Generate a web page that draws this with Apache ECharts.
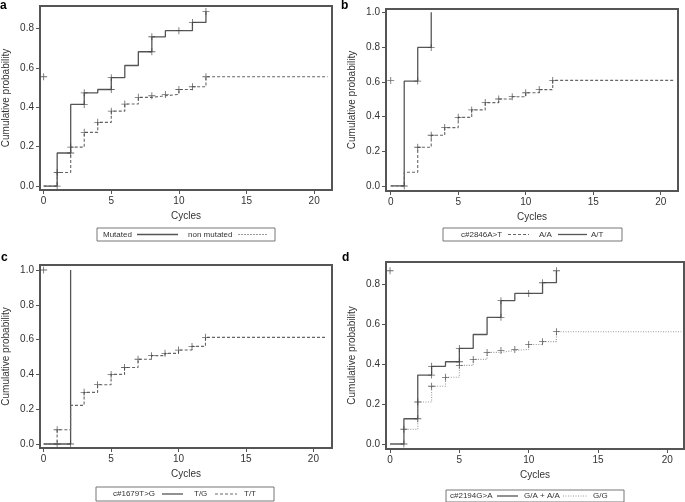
<!DOCTYPE html>
<html><head><meta charset="utf-8">
<script src="https://cdn.jsdelivr.net/npm/echarts@6/dist/echarts.min.js"></script>
<style>html,body{margin:0;padding:0;background:#fff}#c{width:685px;height:502px}</style>
</head><body><div id="c"></div>
<script>
// ---- data ----
const xTicks = [0, 5, 10, 15, 20];
const yTicksA = [0, 0.2, 0.4, 0.6, 0.8];
const yTicksB = [0, 0.2, 0.4, 0.6, 0.8, 1.0];

// panel a
const aMutated = [[0,0],[1,0.168],[2,0.415],[3,0.474],[4,0.491],[5,0.551],[6,0.613],[7,0.683],[8,0.759],[9,0.79],[10,0.79],[11,0.832],[12,0.888]];
const aMutatedMarks = [[1,0],[2,0.168],[3,0.415],[3,0.474],[5,0.491],[5,0.551],[8,0.683],[8,0.759],[10,0.79],[11,0.832],[12,0.888]];
const aNon = [[0,0],[1,0.069],[2,0.198],[3,0.273],[4,0.324],[5,0.381],[6,0.417],[7,0.451],[8,0.459],[9,0.466],[10,0.491],[11,0.505],[12,0.556],[21,0.556]];
const aNonMarks = [[1,0.069],[2,0.198],[3,0.273],[4,0.324],[5,0.381],[6,0.417],[7,0.451],[8,0.459],[9,0.466],[10,0.491],[11,0.505],[12,0.556]];
const aStray = [[0,0.556]];

// panel b
const bAT = [[0,0],[1,0.604],[2,0.798],[3,1.0]];
const bATMarks = [[1,0],[2,0.604],[3,0.798]];
const bAA = [[0,0],[1,0.079],[2,0.223],[3,0.292],[4,0.336],[5,0.395],[6,0.438],[7,0.48],[8,0.501],[9,0.514],[10,0.537],[11,0.555],[12,0.608],[21,0.608]];
const bAAMarks = [[2,0.223],[3,0.292],[4,0.336],[5,0.395],[6,0.438],[7,0.48],[8,0.501],[9,0.514],[10,0.537],[11,0.555],[12,0.608]];
const bStray = [[0,0.608]];

// panel c
const cTG = [[0,0],[2,1.0]];
const cTGMarks = [[1,0],[2,0]];
const cTT = [[0,0],[1,0.082],[2,0.222],[3,0.297],[4,0.341],[5,0.40],[6,0.44],[7,0.487],[8,0.508],[9,0.521],[10,0.54],[11,0.561],[12,0.613],[21,0.613]];
const cTTMarks = [[1,0.082],[3,0.297],[4,0.341],[5,0.40],[6,0.44],[7,0.487],[8,0.508],[9,0.521],[10,0.54],[11,0.561],[12,0.613]];
const cStray = [[0,1.0]];

// panel d
const dGA = [[0,0],[1,0.127],[2,0.346],[3,0.39],[4,0.413],[5,0.48],[6,0.55],[7,0.636],[8,0.72],[9,0.756],[10,0.756],[11,0.81],[12,0.87]];
const dGAMarks = [[1,0],[2,0.127],[3,0.346],[3,0.39],[5,0.413],[5,0.48],[8,0.636],[8,0.72],[10,0.756],[11,0.81],[12,0.87]];
const dGG = [[0,0],[1,0.074],[2,0.211],[3,0.29],[4,0.335],[5,0.395],[6,0.425],[7,0.46],[8,0.47],[9,0.475],[10,0.5],[11,0.514],[12,0.564],[21,0.564]];
const dGGMarks = [[1,0.074],[2,0.211],[3,0.29],[4,0.335],[5,0.395],[6,0.425],[7,0.46],[8,0.47],[9,0.475],[10,0.5],[11,0.514],[12,0.564]];
const dStray = [[0,0.87]];

const xName = 'Cycles';
const yName = 'Cumulative probability';

// ---- styling ----
const FONT = 'Liberation Sans, Arial, sans-serif';
const PLUS = 'path://M-0.12,-1H0.12V1H-0.12Z M-1,-0.12H1V0.12H-1Z';
const grids = [
  {left:38, top:6, width:294, height:184},
  {left:386, top:9, width:292, height:182},
  {left:38, top:265, width:294, height:183},
  {left:386, top:262, width:298, height:187}
];
const xr = [[-0.27,21.32],[-0.35,21.28],[-0.27,21.38],[-0.29,21.2]];
const yr = [[-0.02,0.9155],[-0.029,1.019],[-0.023,1.029],[-0.025,0.914]];
const yt = [yTicksA, yTicksB, yTicksB, yTicksA];

const axisCommon = {
  axisLine:{show:true, onZero:false, lineStyle:{color:'#555', width:2}},
  axisTick:{show:true, inside:false, length:4, lineStyle:{color:'#555', width:1}},
  splitLine:{show:false},
  axisLabel:{color:'#333', fontSize:10, fontFamily:FONT},
  nameTextStyle:{color:'#333', fontSize:10, fontFamily:FONT},
  nameLocation:'middle'
};

const xAxis = grids.map((g,i)=>Object.assign({}, axisCommon, {
  type:'value', gridIndex:i, min:xr[i][0], max:xr[i][1], name:xName, nameGap:21,
  axisTick:Object.assign({}, axisCommon.axisTick, {customValues:xTicks}),
  axisLabel:Object.assign({}, axisCommon.axisLabel, {customValues:xTicks, margin:6, formatter:v=>String(v)})
}));
const yAxis = grids.map((g,i)=>Object.assign({}, axisCommon, {
  type:'value', gridIndex:i, min:yr[i][0], max:yr[i][1], name:yName, nameGap:29,
  axisTick:Object.assign({}, axisCommon.axisTick, {customValues:yt[i]}),
  axisLabel:Object.assign({}, axisCommon.axisLabel, {customValues:yt[i], margin:6, formatter:v=>v.toFixed(1)})
}));

function stepLine(data, i, style){
  return {type:'line', xAxisIndex:i, yAxisIndex:i, data:data, step:'end', symbol:'none', silent:true,
    lineStyle:Object.assign({width:1.3, color:'#555'}, style), z:2};
}
function marks(data, i){
  return {type:'scatter', xAxisIndex:i, yAxisIndex:i, data:data, symbol:PLUS, symbolSize:7, silent:true,
    itemStyle:{color:'#444'}, z:3};
}
const DASH = {type:[3,2], color:'#666', width:1.1};
const DOT = {type:[1,1.5], color:'#999', width:1.1};

const series = [
  stepLine(aMutated,0,{}), marks(aMutatedMarks,0),
  stepLine(aNon,0,DASH), marks(aNonMarks,0), marks(aStray,0),
  stepLine(bAT,1,{}), marks(bATMarks,1),
  stepLine(bAA,1,DASH), marks(bAAMarks,1), marks(bStray,1),
  stepLine(cTG,2,{}), marks(cTGMarks,2),
  stepLine(cTT,2,DASH), marks(cTTMarks,2), marks(cStray,2),
  stepLine(dGA,3,{}), marks(dGAMarks,3),
  stepLine(dGG,3,DOT), marks(dGGMarks,3), marks(dStray,3)
];

// legends drawn as graphic boxes
function legendBox(x, y, w, h, items){
  const children = [{type:'rect', shape:{x:x, y:y, width:w, height:h}, style:{fill:'#fff', stroke:'#777', lineWidth:1}}];
  const cy = y + h/2;
  items.forEach(it=>{
    if (it.text) children.push({type:'text', x:it.x, y:cy, style:{text:it.text, fill:'#333', font:'8px '+FONT, verticalAlign:'middle', align:'left'}});
    else children.push({type:'line', shape:{x1:it.x, y1:cy, x2:it.x2, y2:cy}, style:{stroke:it.color||'#555', lineWidth:it.w||1.3, lineDash:it.dash||null}});
  });
  return {type:'group', children:children};
}
const graphic = [
  {type:'text', left:0, top:0, style:{text:'a', font:'bold 12px '+FONT, fill:'#000'}},
  {type:'text', left:341, top:0, style:{text:'b', font:'bold 12px '+FONT, fill:'#000'}},
  {type:'text', left:1, top:252, style:{text:'c', font:'bold 12px '+FONT, fill:'#000'}},
  {type:'text', left:342, top:252, style:{text:'d', font:'bold 12px '+FONT, fill:'#000'}},
  legendBox(97, 228, 178, 13, [
    {text:'Mutated', x:103}, {x:137, x2:178},
    {text:'non mutated', x:188}, {x:238, x2:268, dash:[2,1], color:'#999', w:1}
  ]),
  legendBox(443, 228, 179, 13, [
    {text:'c#2846A>T', x:461}, {x:508, x2:529, dash:[3,2], color:'#666', w:1},
    {text:'A/A', x:539}, {x:558, x2:587},
    {text:'A/T', x:591}
  ]),
  legendBox(96, 487, 178, 14, [
    {text:'c#1679T>G', x:113}, {x:162, x2:183},
    {text:'T/G', x:194}, {x:215, x2:237, dash:[3,2], color:'#666', w:1},
    {text:'T/T', x:244}
  ]),
  legendBox(446, 490, 178, 12, [
    {text:'c#2194G>A', x:450}, {x:497, x2:518},
    {text:'G/A + A/A', x:524}, {x:563, x2:587, dash:[1,1.5], color:'#999', w:1},
    {text:'G/G', x:593}
  ])
];

const chart = echarts.init(document.getElementById('c'), null, {renderer:'canvas'});
chart.setOption({
  animation:false,
  backgroundColor:'#fff',
  grid: grids.map(g=>Object.assign({show:true, borderColor:'#555', borderWidth:2, containLabel:false}, g)),
  xAxis: xAxis,
  yAxis: yAxis,
  series: series,
  graphic: graphic
});
</script></body></html>
